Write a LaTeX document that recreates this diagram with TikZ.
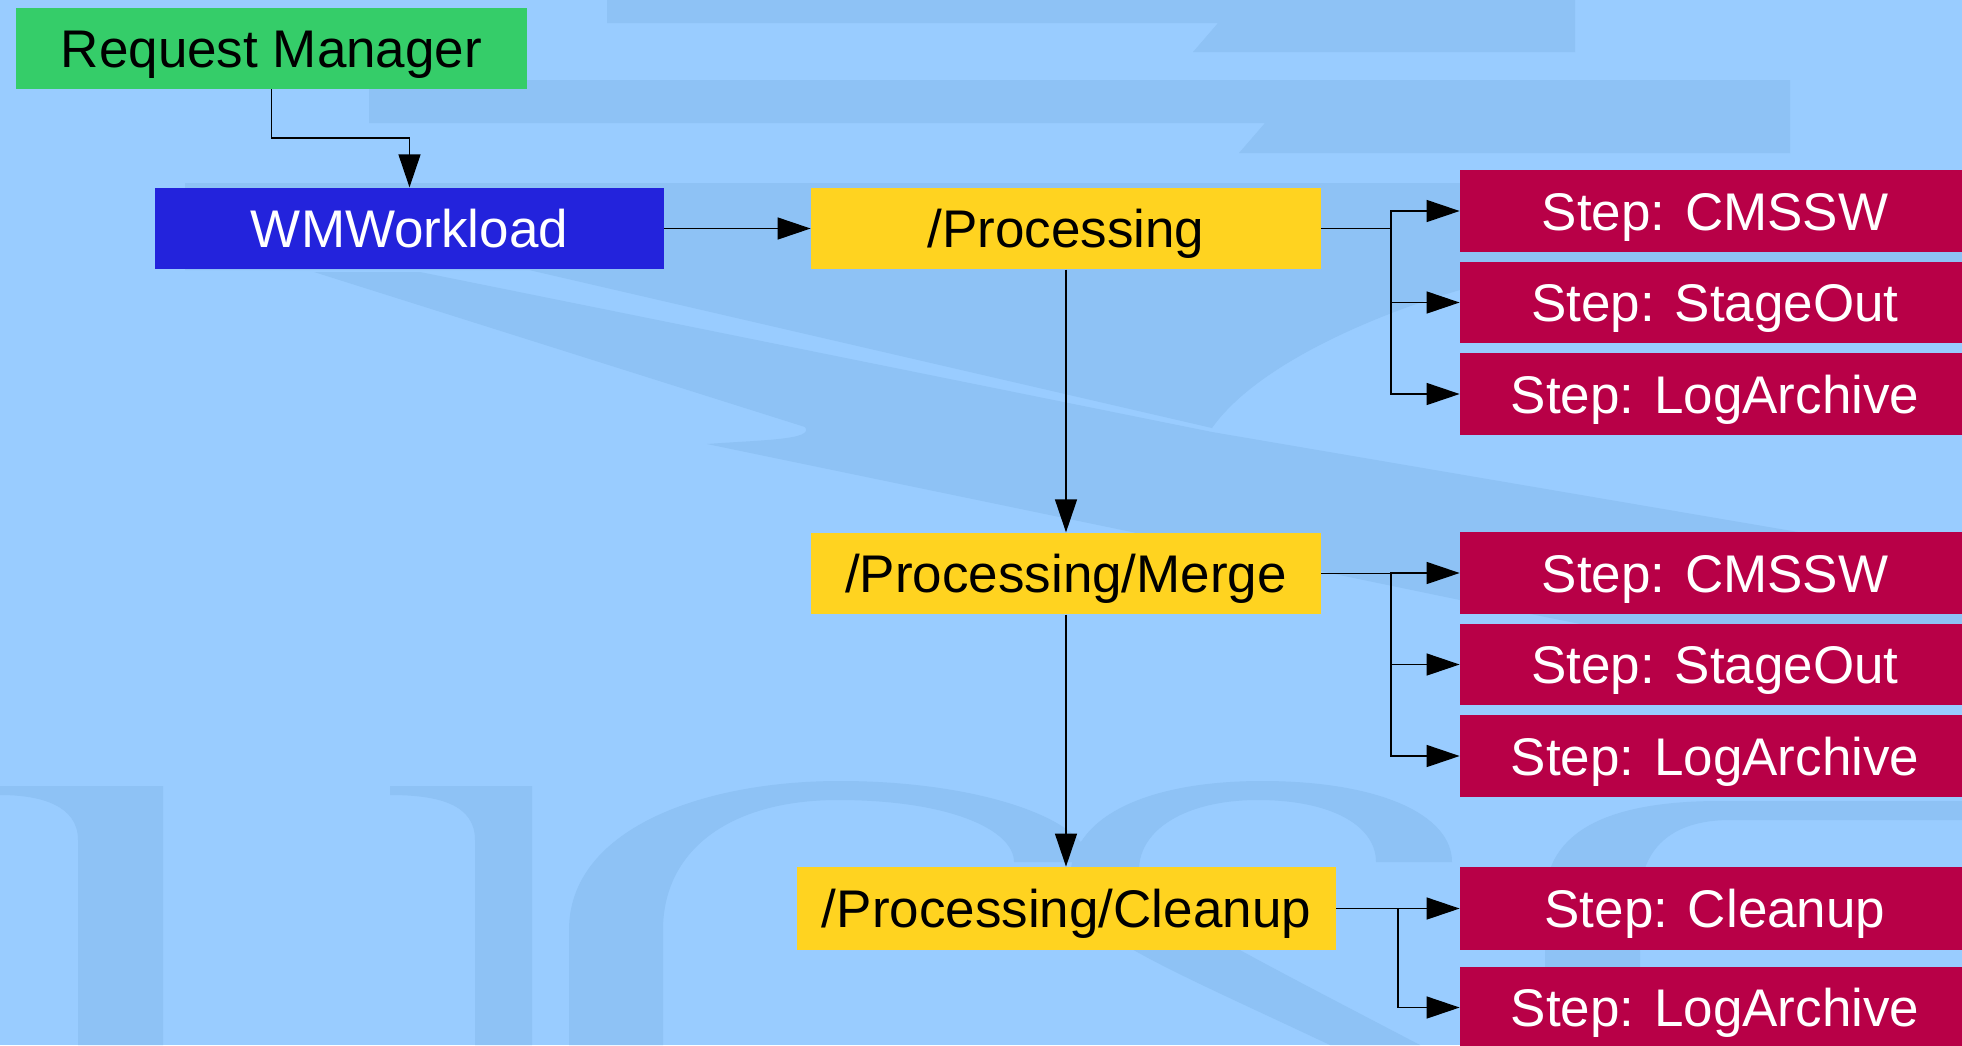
\documentclass[tikz,border=0pt]{standalone}
\usepackage{fontspec}
\setmainfont{Liberation Sans}
\usetikzlibrary{arrows.meta}
\definecolor{bgblue}{RGB}{153,204,255}
\definecolor{wmblue}{RGB}{142,194,245}
\definecolor{rmgreen}{RGB}{53,205,105}
\definecolor{wmdark}{RGB}{35,35,220}
\definecolor{taskyellow}{RGB}{255,211,32}
\definecolor{stepred}{RGB}{184,0,71}
\begin{document}
\begin{tikzpicture}[x=0.5pt,y=-0.5pt,
  box/.style={rectangle, inner sep=0pt, minimum height=40.75pt,
    text height=19pt, text depth=0pt,
    font=\fontsize{26.5}{30}\selectfont},
  rmbox/.style={box, fill=rmgreen, text=black, minimum width=255.5pt},
  wlbox/.style={box, fill=wmdark, text=white, minimum width=254.5pt},
  taskbox/.style={box, fill=taskyellow, text=black, minimum width=255pt},
  stepbox/.style={box, fill=stepred, text=white, minimum width=255pt},
  wire/.style={draw=black, line width=0.65pt},
  conn/.style={wire, -{Triangle[length=16.5pt,width=11pt]}}]
\useasboundingbox (0,0) rectangle (1962,1045);
\clip (0,0) rectangle (1962,1045);
\fill[bgblue] (0,0) rectangle (1962,1045);
% watermark
\begin{scope}[fill=wmblue]
\fill (607,0) -- (1575,0) -- (1575,52) -- (1193,52) -- (1218,23) -- (607,23) -- cycle;
\fill (369,80) -- (1790,80) -- (1790,153) -- (1239,153) -- (1265,123) -- (369,123) -- cycle;
\fill (185,183) -- (1962,183) -- (1962,280) -- (1460,290)
  .. controls (1390,310) and (1260,360) .. (1212,428) -- (529,270) -- (185,270) -- cycle;
\fill (314,272) -- (420,272) -- (1212,432) -- (1962,560) -- (1962,700) -- (1460,600)
  -- (707,444) .. controls (760,440) and (815,440) .. (805,427) -- cycle;
\fill (0,786) -- (163,786) -- (163,1045) -- (78,1045) -- (78,840)
  .. controls (78,805) and (40,795) .. (0,795) -- cycle;
\fill (390,786) -- (532,786) -- (532,1045) -- (475,1045) -- (475,840)
  .. controls (475,805) and (440,795) .. (390,795) -- cycle;
\fill (569,1045) -- (569,930) .. controls (569,830) and (700,781) .. (840,781)
  .. controls (980,781) and (1089,820) .. (1089,862) -- (1014,862)
  .. controls (1014,830) and (950,800) .. (838,800)
  .. controls (730,800) and (663,850) .. (663,930) -- (663,1045) -- cycle;
\fill (1070,880) .. controls (1070,815) and (1150,781) .. (1262,781)
  .. controls (1380,781) and (1452,815) .. (1452,862) -- (1376,862)
  .. controls (1376,825) and (1330,800) .. (1258,800)
  .. controls (1185,800) and (1139,830) .. (1139,870)
  .. controls (1139,900) and (1200,930) .. (1420,1045) -- (1330,1045)
  .. controls (1150,960) and (1070,930) .. (1070,880) -- cycle;
\fill (1545,1045) -- (1545,900) .. controls (1545,830) and (1610,801) .. (1720,801)
  -- (1962,801) -- (1962,820) -- (1730,820)
  .. controls (1670,820) and (1640,850) .. (1640,900) -- (1640,1045) -- cycle;
\end{scope}
% nodes
\node[rmbox] (rm) at (271.5,48.25) {Request Manager};
\node[wlbox] (wl) at (409.5,228.5) {WMWorkload};
\node[taskbox] (proc) at (1066,228.5) {/Processing};
\node[taskbox] (merge) at (1066,573.5) {/Processing/Merge};
\node[taskbox, minimum width=269.5pt, minimum height=41.5pt] (clean) at (1066.5,908.5) {/Processing/Cleanup};
\node[stepbox] (s11) at (1715,211) {Step: CMSSW};
\node[stepbox] (s12) at (1715,302.5) {Step: StageOut};
\node[stepbox] (s13) at (1715,394) {Step: LogArchive};
\node[stepbox] (s21) at (1715,573) {Step: CMSSW};
\node[stepbox] (s22) at (1715,664.5) {Step: StageOut};
\node[stepbox] (s23) at (1715,756) {Step: LogArchive};
\node[stepbox, minimum height=41.5pt] (s31) at (1715,908.5) {Step: Cleanup};
\node[stepbox] (s32) at (1715,1007.5) {Step: LogArchive};
% connectors
\coordinate (e1) at (0,138);
\coordinate (j1) at (1391,228.5);
\coordinate (j2) at (1391,573.5);
\coordinate (j3) at (1398,908.5);
\draw[conn] (rm.south) |- (wl.north |- e1) -- (wl.north);
\draw[conn] (wl.east) -- (proc.west);
\draw[conn] (proc.south) -- (merge.north);
\draw[conn] (merge.south) -- (merge.south |- clean.north);
\draw[wire] (proc.east) -- (j1);
\draw[conn] (j1) |- (s11.west);
\draw[conn] (j1) |- (s12.west);
\draw[conn] (j1) |- (s13.west);
\draw[wire] (merge.east) -- (j2);
\draw[conn] (j2) |- (s21.west);
\draw[conn] (j2) |- (s22.west);
\draw[conn] (j2) |- (s23.west);
\draw[wire] (clean.east) -- (j3);
\draw[conn] (j3) |- (s31.west);
\draw[conn] (j3) |- (s32.west);
\end{tikzpicture}
\end{document}
